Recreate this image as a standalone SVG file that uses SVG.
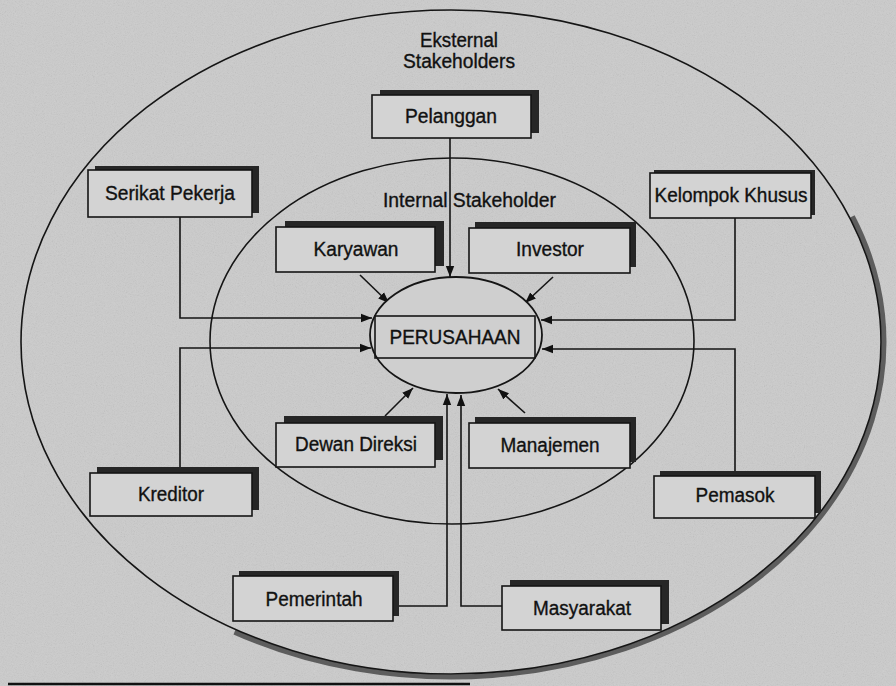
<svg xmlns="http://www.w3.org/2000/svg" width="896" height="686" viewBox="0 0 896 686">
  <defs>
    <marker id="arr" markerUnits="userSpaceOnUse" markerWidth="12" markerHeight="10" refX="11" refY="5" orient="auto">
      <path d="M0,0.8 L11,5 L0,9.2 Z" fill="#111"/>
    </marker>
    <filter id="grain" x="0" y="0" width="100%" height="100%">
      <feTurbulence type="fractalNoise" baseFrequency="0.9" numOctaves="2" seed="3" result="n"/>
      <feColorMatrix type="saturate" values="0" in="n" result="g"/>
      <feComponentTransfer in="g" result="g2">
        <feFuncA type="table" tableValues="0 0 0.35 0.6"/>
      </feComponentTransfer>
      <feComposite in="g2" in2="SourceGraphic" operator="over"/>
    </filter>
  </defs>
  <style>
    .box { fill: #d3d3d3; stroke: #151515; stroke-width: 1.6; }
    .shd { fill: #262626; }
    .lbl { font-family: "Liberation Sans", Arial, sans-serif; font-size: 20px; fill: #111; stroke: #111; stroke-width: 0.35; text-anchor: middle; }
    .ell { fill: none; stroke: #151515; stroke-width: 1.6; }
    .con { fill: none; stroke: #151515; stroke-width: 1.6; }
  </style>

  <rect x="0" y="0" width="896" height="686" fill="#cbcbcb"/>
  <rect x="0" y="0" width="896" height="686" fill="#cbcbcb" filter="url(#grain)" opacity="0.5"/>

  <g id="outer-ellipse">
    <path d="M852.4 216.4 A433 335 0 0 1 234.5 632.1" fill="none" stroke="#4a4a4a" stroke-width="5" opacity="0.85"/>
    <ellipse class="ell" cx="451" cy="342" rx="430" ry="332"/>
    <text class="lbl" x="459" y="47" textLength="78" lengthAdjust="spacingAndGlyphs">Eksternal</text>
    <text class="lbl" x="459" y="68" textLength="112" lengthAdjust="spacingAndGlyphs">Stakeholders</text>
  </g>
  <line x1="8" y1="684" x2="470" y2="684" stroke="#111" stroke-width="2.5"/>

  <g id="inner-ellipse">
    <ellipse class="ell" cx="452" cy="341" rx="242" ry="183"/>
    <text class="lbl" x="383" y="207" style="text-anchor:start" textLength="173" lengthAdjust="spacingAndGlyphs">Internal Stakeholder</text>
  </g>

  <g id="connectors">
    <path class="con" d="M450 138 V277" marker-end="url(#arr)"/>
    <path class="con" d="M180 217 V318 H372" marker-end="url(#arr)"/>
    <path class="con" d="M180 473 V348 H371" marker-end="url(#arr)"/>
    <path class="con" d="M735 218 V320 H541" marker-end="url(#arr)"/>
    <path class="con" d="M735 476 V349 H542" marker-end="url(#arr)"/>
    <path class="con" d="M360 275 L389 303" marker-end="url(#arr)"/>
    <path class="con" d="M553 277 L525 303" marker-end="url(#arr)"/>
    <path class="con" d="M385 416 L413 388" marker-end="url(#arr)"/>
    <path class="con" d="M525 413 L498 389" marker-end="url(#arr)"/>
    <path class="con" d="M398 606 H447 V394" marker-end="url(#arr)"/>
    <path class="con" d="M502 606 H461 V395" marker-end="url(#arr)"/>
  </g>

  <g id="perusahaan">
    <ellipse cx="456" cy="335" rx="86" ry="58" fill="#cfcfcf" stroke="#151515" stroke-width="1.8"/>
    <rect x="375" y="316" width="160" height="42" fill="none" stroke="#151515" stroke-width="1.6"/>
    <text class="lbl" x="455" y="344" font-size="20" textLength="131" lengthAdjust="spacingAndGlyphs">PERUSAHAAN</text>
  </g>

  <g id="pelanggan">
    <rect class="shd" x="380" y="90" width="159" height="43"/>
    <rect class="box" x="372" y="95" width="159" height="43"/>
    <text class="lbl" x="451" y="123" textLength="92" lengthAdjust="spacingAndGlyphs">Pelanggan</text>
  </g>
  <g id="serikat-pekerja">
    <rect class="shd" x="95" y="166" width="164" height="47"/>
    <rect class="box" x="88" y="170" width="164" height="47"/>
    <text class="lbl" x="170" y="200" textLength="130" lengthAdjust="spacingAndGlyphs">Serikat Pekerja</text>
  </g>
  <g id="kelompok-khusus">
    <rect class="shd" x="654" y="170" width="161" height="45"/>
    <rect class="box" x="650" y="173" width="161" height="45"/>
    <text class="lbl" x="731" y="202" textLength="153" lengthAdjust="spacingAndGlyphs">Kelompok Khusus</text>
  </g>
  <g id="karyawan">
    <rect class="shd" x="285" y="221" width="159" height="45"/>
    <rect class="box" x="276" y="227" width="159" height="45"/>
    <text class="lbl" x="356" y="256" textLength="85" lengthAdjust="spacingAndGlyphs">Karyawan</text>
  </g>
  <g id="investor">
    <rect class="shd" x="475" y="222" width="161" height="45"/>
    <rect class="box" x="469" y="228" width="161" height="45"/>
    <text class="lbl" x="550" y="256" textLength="68" lengthAdjust="spacingAndGlyphs">Investor</text>
  </g>
  <g id="dewan-direksi">
    <rect class="shd" x="284" y="416" width="159" height="44"/>
    <rect class="box" x="276" y="423" width="159" height="44"/>
    <text class="lbl" x="356" y="451" textLength="122" lengthAdjust="spacingAndGlyphs">Dewan Direksi</text>
  </g>
  <g id="manajemen">
    <rect class="shd" x="475" y="417" width="161" height="45"/>
    <rect class="box" x="469" y="423" width="161" height="45"/>
    <text class="lbl" x="550" y="452" textLength="99" lengthAdjust="spacingAndGlyphs">Manajemen</text>
  </g>
  <g id="kreditor">
    <rect class="shd" x="97" y="467" width="162" height="43"/>
    <rect class="box" x="90" y="473" width="162" height="43"/>
    <text class="lbl" x="171" y="501" textLength="66" lengthAdjust="spacingAndGlyphs">Kreditor</text>
  </g>
  <g id="pemasok">
    <rect class="shd" x="660" y="471" width="161" height="42"/>
    <rect class="box" x="654" y="476" width="161" height="42"/>
    <text class="lbl" x="735" y="502" textLength="79" lengthAdjust="spacingAndGlyphs">Pemasok</text>
  </g>
  <g id="pemerintah">
    <rect class="shd" x="239" y="571" width="160" height="45"/>
    <rect class="box" x="233" y="576" width="160" height="45"/>
    <text class="lbl" x="314" y="606" textLength="97" lengthAdjust="spacingAndGlyphs">Pemerintah</text>
  </g>
  <g id="masyarakat">
    <rect class="shd" x="510" y="580" width="159" height="44"/>
    <rect class="box" x="502" y="586" width="159" height="44"/>
    <text class="lbl" x="582" y="615" textLength="98" lengthAdjust="spacingAndGlyphs">Masyarakat</text>
  </g>
</svg>
